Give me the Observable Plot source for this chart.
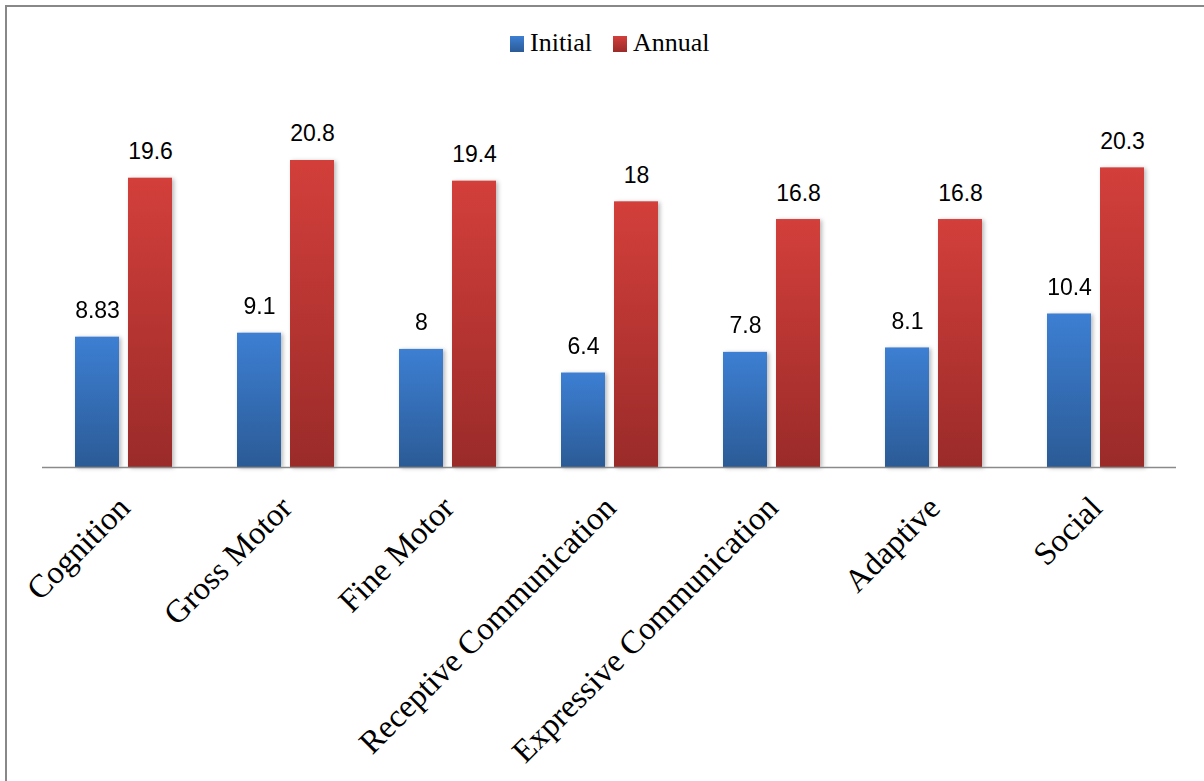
<!DOCTYPE html>
<html>
<head>
<meta charset="utf-8">
<script src="https://cdn.jsdelivr.net/npm/d3@7"></script>
<script src="https://cdn.jsdelivr.net/npm/@observablehq/plot@0.6"></script>
<style>
  html, body { margin: 0; padding: 0; background: #fff; }
  #frame { position: absolute; left: 5px; top: 5px; width: 1199px; height: 776px;
           border-top: 2px solid #888; border-left: 2px solid #888; box-sizing: border-box; }
  #legend { position: absolute; left: 0; top: 0; width: 1204px; height: 70px; }
  .item { position: absolute; top: 0; height: 70px; font-family: "Liberation Serif", "Times New Roman", serif;
          font-size: 26px; color: #000; }
  .sw { position: absolute; width: 14px; height: 16px; top: 36px; }
  .lab { position: absolute; top: 28px; white-space: nowrap; line-height: 30px; }
  #chart { position: absolute; left: 0; top: 70px; }
</style>
</head>
<body>
<div id="frame"></div>
<div id="legend"></div>
<div id="chart"></div>
<script>
const categories = ["Cognition", "Gross Motor", "Fine Motor", "Receptive Communication",
                    "Expressive Communication", "Adaptive", "Social"];
const series = ["Initial", "Annual"];
const initialValues = [8.83, 9.1, 8, 6.4, 7.8, 8.1, 10.4];
const annualValues = [19.6, 20.8, 19.4, 18, 16.8, 16.8, 20.3];
const seriesColors = {Initial: ["#3d7fd3", "#2b5b96"], Annual: ["#d33f3b", "#9a2b29"]};

const data = [];
categories.forEach((c, i) => {
  data.push({category: c, series: "Initial", value: initialValues[i]});
  data.push({category: c, series: "Annual", value: annualValues[i]});
});

// Legend (HTML, above the SVG)
const legend = document.getElementById("legend");
const legendItems = [{name: "Initial", left: 510}, {name: "Annual", left: 613}];
legendItems.forEach(it => {
  const d = document.createElement("div");
  d.className = "item";
  d.style.left = it.left + "px";
  const sw = document.createElement("div");
  sw.className = "sw";
  sw.style.left = "0px";
  sw.style.background = `linear-gradient(${seriesColors[it.name][0]}, ${seriesColors[it.name][1]})`;
  const lab = document.createElement("div");
  lab.className = "lab";
  lab.style.left = "20px";
  lab.textContent = it.name;
  d.appendChild(sw); d.appendChild(lab);
  legend.appendChild(d);
});

const svg = Plot.plot({
  width: 1204,
  height: 711,
  marginLeft: 42,
  marginRight: 28,
  marginTop: 28,
  marginBottom: 314,
  style: {background: "transparent", overflow: "visible"},
  fx: {domain: categories, padding: 0, axis: null},
  x: {domain: series, paddingInner: 0.17, paddingOuter: 0.613, axis: null},
  y: {domain: [0, 25], axis: null},
  color: {domain: series, range: ["url(#gradInitial)", "url(#gradAnnual)"]},
  marks: [
    Plot.barY(data, {fx: "category", x: "series", y: "value", fill: "series"}),
    Plot.ruleY([0], {stroke: "#8a8a8a", strokeWidth: 1.6}),
    Plot.text(data, {fx: "category", x: "series", y: "value", text: d => String(d.value),
      lineAnchor: "bottom", dy: -19, fontSize: 23, fill: "#000",
      fontFamily: "'Liberation Sans', Arial, sans-serif"}),
    Plot.text(categories, {fx: d => d, frameAnchor: "bottom", text: d => d,
      rotate: -45, textAnchor: "end", lineAnchor: "middle", dx: 1, dy: 35,
      fontSize: 32.5, fill: "#000", fontFamily: "'Liberation Serif', 'Times New Roman', serif"})
  ]
});

// gradients for bars
const defs = d3.select(svg).insert("defs", ":first-child");
series.forEach(s => {
  const g = defs.append("linearGradient").attr("id", "grad" + s)
    .attr("x1", 0).attr("y1", 0).attr("x2", 0).attr("y2", 1);
  g.append("stop").attr("offset", "0%").attr("stop-color", seriesColors[s][0]);
  g.append("stop").attr("offset", "100%").attr("stop-color", seriesColors[s][1]);
});
d3.select(svg).selectAll("g[aria-label='bar']")
  .style("filter", "drop-shadow(2px 1px 2px rgba(0,0,0,0.28))");

document.getElementById("chart").appendChild(svg);
</script>
</body>
</html>
